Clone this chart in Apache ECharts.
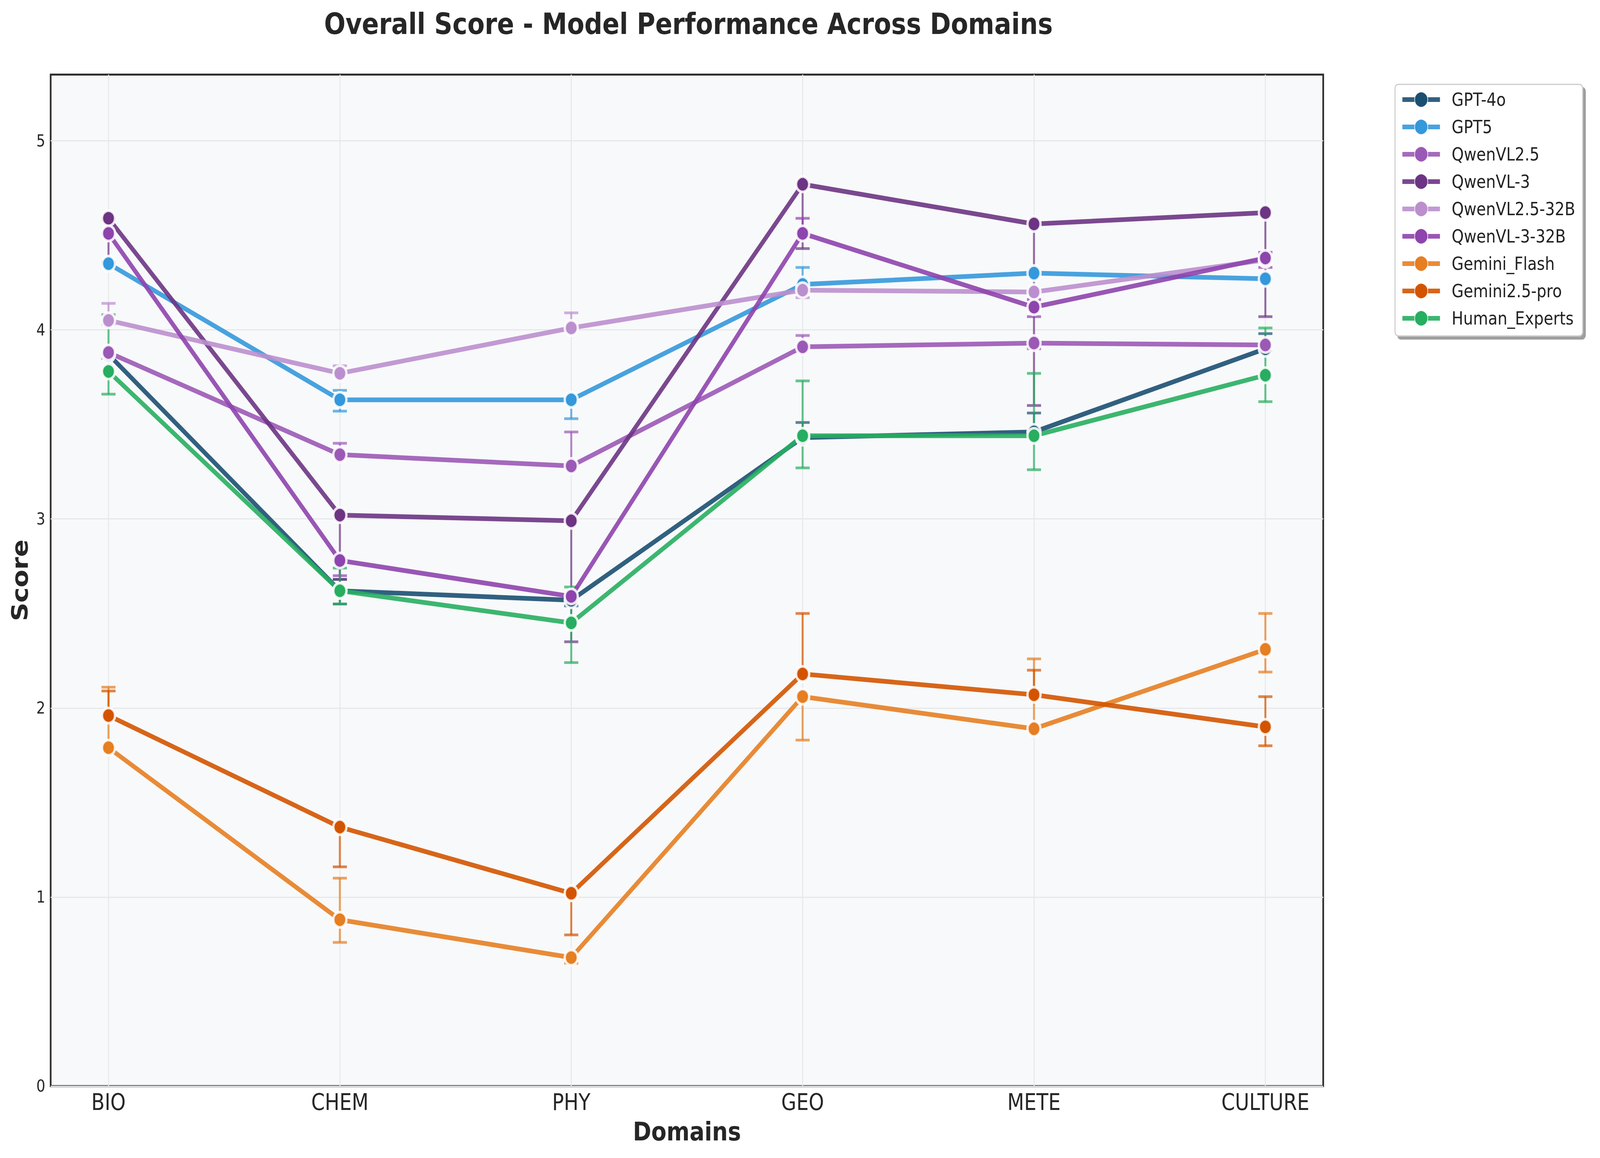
<!DOCTYPE html>
<html>
<head>
<meta charset="utf-8">
<script src="https://cdn.jsdelivr.net/npm/echarts@6/dist/echarts.min.js"></script>
<style>
html,body{margin:0;padding:0;background:#fff;overflow:hidden;}
#chart{width:4769px;height:2965px;transform-origin:0 0;}
</style>
</head>
<body>
<div id="chart"></div>
<script>
// ---------------- data ----------------
const domains = ['BIO', 'CHEM', 'PHY', 'GEO', 'METE', 'CULTURE'];
const yTicks = [0, 1, 2, 3, 4, 5];
const xTicks = [0, 1, 2, 3, 4, 5];

const modelNames = ['GPT-4o', 'GPT5', 'QwenVL2.5', 'QwenVL-3', 'QwenVL2.5-32B', 'QwenVL-3-32B', 'Gemini_Flash', 'Gemini2.5-pro', 'Human_Experts'];

const gpt4o      = [3.87, 2.62, 2.57, 3.43, 3.46, 3.90];
const gpt4oLow   = [3.85, 2.55, 2.54, 3.43, 3.46, 3.90];
const gpt4oHigh  = [3.88, 2.68, 2.57, 3.51, 3.56, 3.98];

const gpt5       = [4.35, 3.63, 3.63, 4.24, 4.30, 4.27];
const gpt5Low    = [4.35, 3.57, 3.53, 4.24, 4.30, 4.27];
const gpt5High   = [4.35, 3.68, 3.63, 4.33, 4.30, 4.27];

const qwen25     = [3.88, 3.34, 3.28, 3.91, 3.93, 3.92];
const qwen25Low  = [3.85, 3.34, 3.28, 3.91, 3.90, 3.89];
const qwen25High = [3.88, 3.40, 3.46, 3.97, 3.93, 3.92];

const qwen3      = [4.59, 3.02, 2.99, 4.77, 4.56, 4.62];
const qwen3Low   = [4.36, 2.68, 2.35, 4.43, 3.60, 4.07];
const qwen3High  = [4.59, 3.02, 2.99, 4.77, 4.56, 4.62];

const qwen25b      = [4.05, 3.77, 4.01, 4.21, 4.20, 4.37];
const qwen25bLow   = [4.03, 3.77, 4.01, 4.17, 4.20, 4.37];
const qwen25bHigh  = [4.14, 3.81, 4.09, 4.21, 4.20, 4.37];

const qwen3b      = [4.51, 2.78, 2.59, 4.51, 4.12, 4.38];
const qwen3bLow   = [4.51, 2.70, 2.59, 4.51, 4.07, 4.33];
const qwen3bHigh  = [4.58, 2.78, 2.59, 4.59, 4.16, 4.41];

const flash      = [1.79, 0.88, 0.68, 2.06, 1.89, 2.31];
const flashLow   = [1.79, 0.76, 0.65, 1.83, 1.89, 2.19];
const flashHigh  = [2.11, 1.10, 0.68, 2.06, 2.26, 2.50];

const pro        = [1.96, 1.37, 1.02, 2.18, 2.07, 1.90];
const proLow     = [1.96, 1.16, 0.80, 2.18, 2.07, 1.80];
const proHigh    = [2.09, 1.37, 1.02, 2.50, 2.20, 2.06];

const human      = [3.78, 2.62, 2.45, 3.44, 3.44, 3.76];
const humanLow   = [3.66, 2.55, 2.24, 3.27, 3.26, 3.62];
const humanHigh  = [4.08, 2.74, 2.64, 3.73, 3.77, 4.01];

const colors = ['#1B4F72', '#3498DB', '#9B59B6', '#6C3483', '#BB8FCE', '#8E44AD', '#E67E22', '#D35400', '#27AE60'];

// ---------------- build ----------------
const values = [gpt4o, gpt5, qwen25, qwen3, qwen25b, qwen3b, flash, pro, human];
const lows   = [gpt4oLow, gpt5Low, qwen25Low, qwen3Low, qwen25bLow, qwen3bLow, flashLow, proLow, humanLow];
const highs  = [gpt4oHigh, gpt5High, qwen25High, qwen3High, qwen25bHigh, qwen3bHigh, flashHigh, proHigh, humanHigh];

// The browser viewport may be narrower than the 4769px design width: fit it horizontally.
const DESIGN_W = 4769;
const box = document.getElementById('chart');
const fitScale = Math.min(1, window.innerWidth / DESIGN_W);
if (fitScale < 1) { box.style.transform = 'scaleX(' + fitScale + ')'; }

const FONT = 'DejaVu Sans';
const series = [];
modelNames.forEach((name, k) => {
  const c = colors[k];
  series.push({
    type: 'line',
    name: name,
    data: values[k].map((v, i) => [i, v]),
    symbol: 'circle',
    symbolSize: 39,
    showSymbol: true,
    lineStyle: { color: c, width: 12, opacity: 0.9 },
    itemStyle: { color: c, borderColor: 'rgba(255,255,255,0.85)', borderWidth: 7, opacity: 1 },
    emphasis: { disabled: true },
    z: 2
  });
  series.push({
    type: 'custom',
    name: name + ' err',
    silent: true,
    data: values[k].map((v, i) => [i, lows[k][i], highs[k][i]]),
    encode: { x: 0, y: [1, 2] },
    z: 2,
    renderItem: function (params, api) {
      const x = api.value(0);
      const p1 = api.coord([x, api.value(1)]);
      const p2 = api.coord([x, api.value(2)]);
      const cw = 21;
      const st = { stroke: c, lineWidth: 6, opacity: 0.7 };
      const cs = { stroke: c, lineWidth: 7, opacity: 0.7 };
      return {
        type: 'group',
        children: [
          { type: 'line', shape: { x1: p1[0], y1: p1[1], x2: p2[0], y2: p2[1] }, style: st },
          { type: 'line', shape: { x1: p1[0] - cw, y1: p1[1], x2: p1[0] + cw, y2: p1[1] }, style: cs },
          { type: 'line', shape: { x1: p2[0] - cw, y1: p2[1], x2: p2[0] + cw, y2: p2[1] }, style: cs }
        ]
      };
    }
  });
});

const chart = echarts.init(box, null, { renderer: 'svg', width: 4769, height: 2965 });
chart.setOption({
  animation: false,
  backgroundColor: '#ffffff',
  textStyle: { fontFamily: FONT },
  title: {
    text: 'Overall Score - Model Performance Across Domains',
    left: 2047,
    top: 18,
    textAlign: 'center',
    textStyle: { fontFamily: FONT, fontSize: 75, fontWeight: 'bold', color: '#262626' }
  },
  grid: {
    left: 151, right: 825, top: 191, bottom: 184,
    show: true,
    backgroundColor: '#F8F9FA',
    borderColor: '#2B2B2B',
    borderWidth: 5,
    containLabel: false
  },
  legend: {
    data: modelNames,
    orient: 'vertical',
    left: 4158,
    top: 216,
    itemWidth: 112,
    itemHeight: 49,
    itemGap: 24,
    padding: [16, 22, 22, 16],
    backgroundColor: '#ffffff',
    borderColor: '#cccccc',
    borderWidth: 3,
    borderRadius: 10,
    shadowColor: 'rgba(0,0,0,0.38)',
    shadowBlur: 0,
    shadowOffsetX: 8,
    shadowOffsetY: 8,
    lineStyle: { width: 12, opacity: 0.9 },
    textStyle: { fontFamily: FONT, fontSize: 46, color: '#222222', lineHeight: 46, padding: [0, 0, 0, 30] },
    selectedMode: false
  },
  xAxis: {
    type: 'value',
    min: -0.25,
    max: 5.25,
    name: 'Domains',
    nameLocation: 'middle',
    nameGap: 83,
    nameTextStyle: { fontFamily: FONT, fontSize: 66, fontWeight: 'bold', color: '#262626' },
    axisLine: { show: false },
    axisTick: { show: false, customValues: xTicks },
    axisLabel: {
      customValues: xTicks,
      margin: 12,
      fontFamily: FONT, fontSize: 58, color: '#262626',
      formatter: function (v) { return domains[Math.round(v)]; }
    },
    splitLine: { show: true, lineStyle: { color: '#E6E8EB', width: 3 } }
  },
  yAxis: {
    type: 'value',
    min: 0,
    max: 5.35,
    name: 'Score',
    nameLocation: 'middle',
    nameGap: 58,
    nameRotate: 90,
    nameTextStyle: { fontFamily: FONT, fontSize: 66, fontWeight: 'bold', color: '#262626' },
    axisLine: { show: false },
    axisTick: { show: false, customValues: yTicks },
    axisLabel: { customValues: yTicks, margin: 16, fontFamily: FONT, fontSize: 42, color: '#262626' },
    splitLine: { show: true, lineStyle: { color: '#E6E8EB', width: 3 } }
  },
  series: series
});
</script>
</body>
</html>
